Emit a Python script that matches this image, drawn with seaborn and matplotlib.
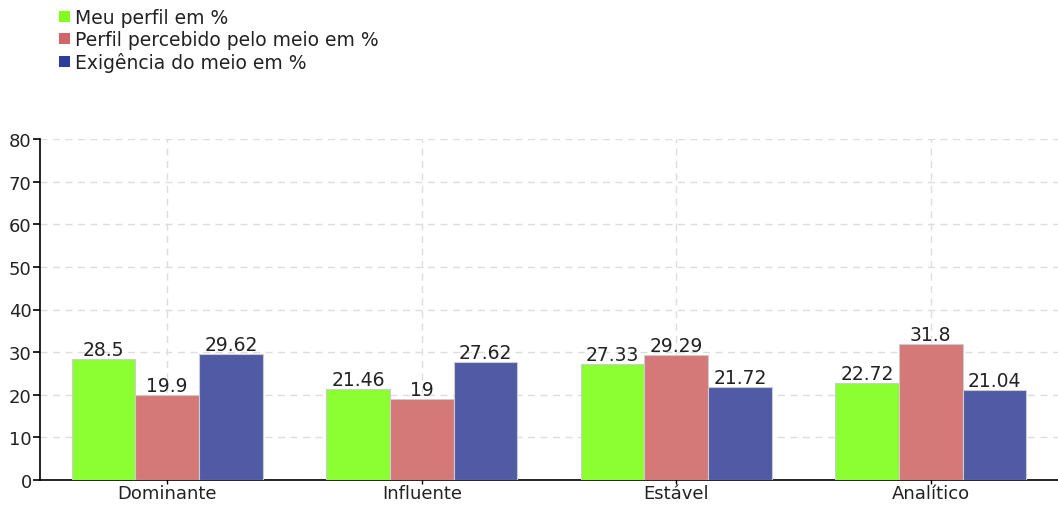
import seaborn as sns
import matplotlib.pyplot as plt
import pandas as pd
from matplotlib.patches import Patch

categorias = ["Dominante", "Influente", "Estável", "Analítico"]
series = ["Meu perfil em %", "Perfil percebido pelo meio em %", "Exigência do meio em %"]
meu_perfil = [28.5, 21.46, 27.33, 22.72]
percebido = [19.9, 19, 29.29, 31.8]
exigencia = [29.62, 27.62, 21.72, 21.04]

cores = ["#8CFF32", "#D47878", "#505AA5"]
cores_legenda = ["#7FFF1A", "#D06666", "#2E3C9C"]

df = pd.DataFrame({
    "categoria": categorias * 3,
    "serie": [series[0]] * 4 + [series[1]] * 4 + [series[2]] * 4,
    "valor": meu_perfil + percebido + exigencia,
})

sns.set_style("white")
plt.rcParams["font.family"] = ["DejaVu Sans"]

fig = plt.figure(figsize=(10.58, 5.06), dpi=100)
ax = fig.add_axes([40 / 1058, 25 / 506, 1018 / 1058, 341 / 506])

sns.barplot(data=df, x="categoria", y="valor", hue="serie", hue_order=series,
            order=categorias, palette=cores, width=0.75, gap=0, saturation=1,
            edgecolor="#cccccc", linewidth=0.8, legend=False, ax=ax, zorder=3)

for c in ax.containers:
    ax.bar_label(c, fmt="%g", padding=0, fontsize=13.5, color="#222222", zorder=4)

ax.set_ylim(0, 80)
ax.set_xlim(-0.5, 3.5)
ax.set_yticks(range(0, 81, 10))
ax.set_xlabel("")
ax.set_ylabel("")
ax.grid(True, color="#dddddd", linestyle=(0, (5, 4)), linewidth=1, zorder=0)
sns.despine(ax=ax, top=True, right=True)
ax.spines["left"].set_color("black")
ax.spines["bottom"].set_color("black")
ax.spines["left"].set_linewidth(1.2)
ax.spines["bottom"].set_linewidth(1.2)
ax.tick_params(axis="y", direction="out", length=5, width=1.2, color="black",
               labelsize=13, labelcolor="#222222", pad=1, left=True)
ax.tick_params(axis="x", direction="inout", length=6, width=1, color="black",
               labelsize=13, labelcolor="#222222", pad=0, bottom=True)

handles = [Patch(facecolor=c, edgecolor="none") for c in cores_legenda]
fig.legend(handles, series, loc="upper left", bbox_to_anchor=(50 / 1058, 1.0),
           frameon=False, fontsize=13.5, handlelength=0.55, handleheight=0.55,
           handletextpad=0.3, labelspacing=0.15, borderaxespad=0.1,
           labelcolor="#222222")

fig.savefig("out.png", dpi=100)
